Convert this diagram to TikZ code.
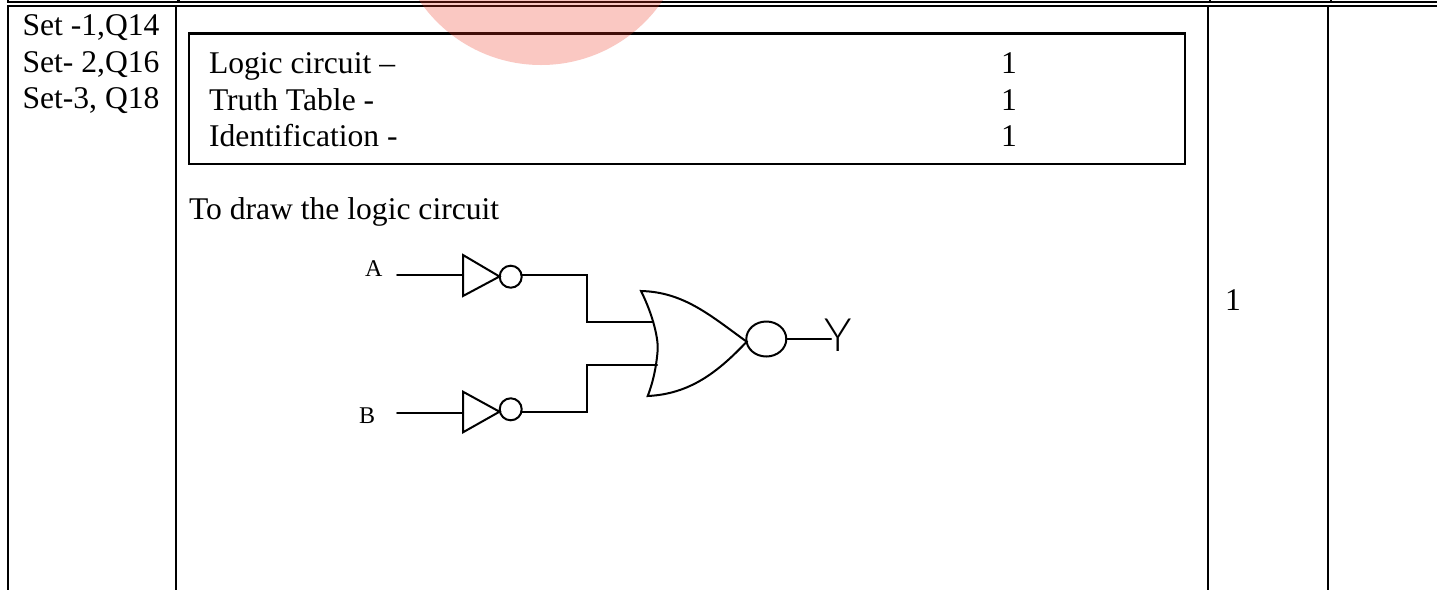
\documentclass[tikz,border=0pt]{standalone}
\usepackage{fontspec}
\setmainfont{Liberation Serif}
\newfontfamily\yfont{Lato Light}
\definecolor{stamp}{RGB}{237,52,33}
\tikzset{
  px/.style={x=1pt,y=-1pt},
  rule/.style={line width=2.4pt,black},
  boxline/.style={line width=2.3pt,black},
  wire/.style={line width=2pt,black,line cap=round,line join=miter},
  body/.style={font=\fontsize{31.6}{36}\selectfont,anchor=base west,inner sep=0pt,outer sep=0pt},
  small/.style={font=\fontsize{24}{28}\selectfont,anchor=base west,inner sep=0pt,outer sep=0pt},
  bubble/.style={draw,line width=2pt,circle,minimum size=22pt,inner sep=0pt,outer sep=0pt},
  bigbubble/.style={draw,line width=2pt,ellipse,minimum width=40pt,minimum height=35pt,inner sep=0pt,outer sep=0pt},
}
\usetikzlibrary{shapes.geometric}
\begin{document}
\begin{tikzpicture}[px]
\useasboundingbox (0,0) rectangle (1437,590);
\clip (0,0) rectangle (1437,590);
\fill[white] (0,0) rectangle (1437,590);
% table rules
\draw[rule] (7,1.7) -- (1437,1.7);
\draw[rule] (7,5.7) -- (1437,5.7);
\draw[rule] (8,0) -- (8,1.7);
\draw[rule] (178.3,0) -- (178.3,1.7);
\draw[rule] (1210,0) -- (1210,1.7);
\draw[rule] (1331,0) -- (1331,1.7);
\draw[rule] (8,5.7) -- (8,590);
\draw[rule] (175.7,5.7) -- (175.7,590);
\draw[rule] (1207.8,5.7) -- (1207.8,590);
\draw[rule] (1327.8,5.7) -- (1327.8,590);
% marks box
\draw[boxline] (189,33.5) rectangle (1185,164);
% texts
\node[body] (s1) at (22.5,35) {Set -1,Q14};
\node[body] (s2) at (22.5,72) {Set- 2,Q16};
\node[body] (s3) at (22.5,108) {Set-3, Q18};
\node[body] (l1) at (209,73.5) {Logic circuit –};
\node[body] (l2) at (209,110) {Truth Table -};
\node[body] (l3) at (209,146.5) {Identification -};
\node[body] (m1) at (1001,73.5) {1};
\node[body] (m2) at (1001,110) {1};
\node[body] (m3) at (1001,146.5) {1};
\node[body] (todraw) at (189,219) {To draw the logic circuit};
\node[body] (mark) at (1225,310) {1};
\node[small] (A) at (365,276) {A};
\node[small] (B) at (359,423) {B};
% circuit anchors
\coordinate (ainA) at (397,274.7);
\coordinate (tA1) at (463,255);
\coordinate (tA2) at (463,296);
\coordinate (tA3) at (499.5,276.5);
\coordinate (ainB) at (397,413.3);
\coordinate (tB1) at (463,391.7);
\coordinate (tB2) at (463,432.3);
\coordinate (tB3) at (499.5,411.7);
\node[bubble] (bA) at (510.7,276.7) {};
\node[bubble] (bB) at (510.7,409.3) {};
\coordinate (nt) at (641,291);
\coordinate (nb) at (647.7,396);
\coordinate (na) at (746.7,341.7);
\coordinate (jA) at (652.7,321.7);
\coordinate (jB) at (657,365.3);
\node[bigbubble] (bN) at (766.3,339) {};
\coordinate (yin) at (831,338.5);
\node[font=\yfont\fontsize{46}{50}\selectfont,inner sep=0pt,outer sep=0pt,anchor=base] (Y) at (838.3,351) {Y};
% inverters
\draw[wire] (tA1) -- (tA3) -- (tA2) -- cycle;
\draw[wire] (tB1) -- (tB3) -- (tB2) -- cycle;
% wires
\draw[wire] (ainA) -- (tA1 |- ainA);
\draw[wire] (ainB) -- (tB1 |- ainB);
\draw[wire] (bA.east |- 0,274.7) -| (587.3,321.7) -- (jA);
\draw[wire] (bB.east |- 0,412) -| (587.3,365.3) -- (jB);
% NOR body
\draw[wire] (nt) .. controls (653,315) and (659,340) .. (657.5,352) .. controls (656,370) and (652,385) .. (nb)
  .. controls (690,394) and (718,372) .. (na)
  .. controls (711,316) and (684,292) .. (nt) -- cycle;
\draw[wire] (bN.east |- yin) -- (yin);
% stamp
\fill[stamp,opacity=0.27] (541,-82) circle[radius=147];
\end{tikzpicture}
\end{document}
